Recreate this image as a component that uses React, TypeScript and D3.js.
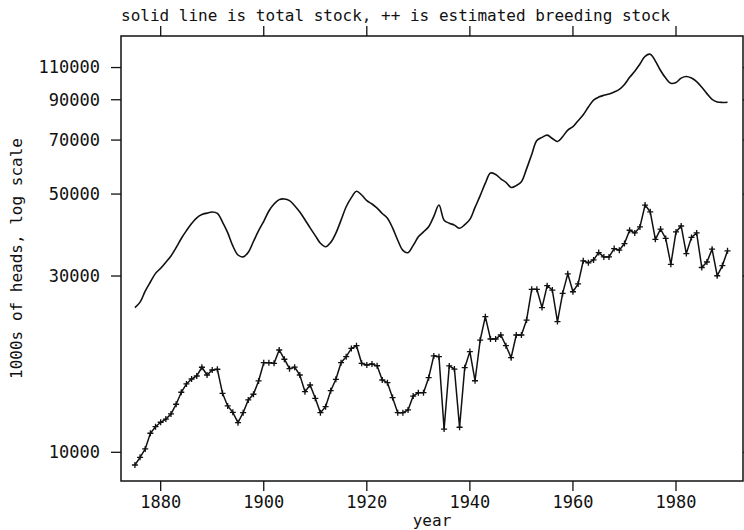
import React from "react";
import * as d3 from "d3";

const width = 744;
const height = 530;
const left = 121;
const right = 743;
const top = 36;
const bottom = 481;

// years 1875..1990
const firstYear = 1875;

// total stock, 1000s of heads (smooth line)
const totalStock = [
  24640, 25500, 27300, 28900, 30500, 31500, 32700, 34000, 35800, 37900,
  39800, 41600, 43100, 44000, 44400, 44700, 44300, 42000, 39300, 36200,
  34200, 33800, 34800, 37200, 39800, 42200, 45000, 47000, 48300, 48500,
  48000, 46500, 44700, 42600, 40500, 38600, 36800, 36000, 37000, 39200,
  42500, 46200, 48900, 50900, 49700, 48000, 47000, 45800, 44300, 43000,
  40500, 37500, 35200, 34700, 36300, 38300, 39500, 40800, 43500, 46700,
  42500, 41700, 41200, 40400, 41300, 42700, 46000, 49500, 53500, 57000,
  56500, 55000, 53800, 52100, 52700, 54000, 58500, 64000, 69800, 71200,
  72200, 70700, 69400, 71500, 74500, 76100, 79000, 82000, 86000, 89800,
  91500, 92500, 93300, 94500, 96000, 99000, 103500, 107500, 112500, 118000,
  119500, 114500, 108000, 103000, 99700, 100200, 103000, 104000, 103000, 100800,
  97300, 93500, 90200, 88800, 88500, 88600,
];

// estimated breeding stock (++ points)
const breedingStock = [
  9240, 9690, 10210, 11260, 11730, 12060, 12300, 12700, 13490, 14540,
  15310, 15790, 16090, 16990, 16190, 16700, 16780, 14440, 13350, 12830,
  12030, 12800, 13860, 14360, 15600, 17480, 17480, 17410, 18920, 17860,
  16840, 17000, 16190, 14590, 15210, 14000, 12800, 13290, 14680, 15760,
  17480, 18150, 19100, 19430, 17410, 17230, 17340, 17150, 15690, 15430,
  14060, 12800, 12800, 13020, 14200, 14500, 14500, 15920, 18230, 18150,
  11560, 17130, 16800, 11690, 16940, 18730, 15620, 20130, 23290, 20260,
  20260, 20770, 19430, 18030, 20770, 20770, 22800, 27620, 27620, 24640,
  28250, 27490, 22580, 26920, 30410, 27200, 28560, 32980, 32580, 33170,
  34720, 33800, 33800, 35600, 35240, 36730, 39900, 39240, 40750, 46690,
  44760, 37700, 40200, 37920, 32270, 39490, 40980, 34510, 38170, 39240,
  31640, 32740, 35460, 30050, 32010, 35110,
];

const xTicks = [1880, 1900, 1920, 1940, 1960, 1980];
const yTicks = [10000, 30000, 50000, 70000, 90000, 110000];

const title = "solid line is total stock, ++ is estimated breeding stock";
const xLabel = "year";
const yLabel = "1000s of heads, log scale";

const font = "'DejaVu Sans Mono', 'Liberation Mono', monospace";

export default function App() {
  const x = d3.scaleLinear().domain([1872.3, 1993.0]).range([left, right]);
  const y = d3.scaleLog().domain([8362, 133900]).range([bottom, top]);

  const total = totalStock.map((v, i) => ({ year: firstYear + i, v }));
  const breed = breedingStock.map((v, i) => ({ year: firstYear + i, v }));

  const smooth = d3
    .line<{ year: number; v: number }>()
    .curve(d3.curveCatmullRom.alpha(0.5))
    .x(d => x(d.year))
    .y(d => y(d.v));
  const straight = d3
    .line<{ year: number; v: number }>()
    .x(d => x(d.year))
    .y(d => y(d.v));

  const tick = 10;
  const arm = 3;

  return (
    <svg
      width={width}
      height={height}
      viewBox={`0 0 ${width} ${height}`}
      style={{ position: "absolute", left: 0, top: 0, background: "white" }}
    >
      <rect x={0} y={0} width={width} height={height} fill="white" />

      <text x={left} y={21} fontFamily={font} fontSize={16} fill="#111">
        {title}
      </text>

      {/* frame */}
      <rect
        x={left}
        y={top}
        width={right - left}
        height={bottom - top}
        fill="none"
        stroke="#111"
        strokeWidth={1.5}
      />

      {/* x ticks, top and bottom */}
      <g stroke="#111" strokeWidth={1.3}>
        {xTicks.map(t => (
          <g key={t}>
            <line x1={x(t)} x2={x(t)} y1={bottom} y2={bottom + tick} />
            <line x1={x(t)} x2={x(t)} y1={top} y2={top - tick} />
          </g>
        ))}
        {yTicks.map(t => (
          <g key={t}>
            <line x1={left} x2={left - tick} y1={y(t)} y2={y(t)} />
            <line x1={right} x2={right + tick} y1={y(t)} y2={y(t)} />
          </g>
        ))}
      </g>

      <g fontFamily={font} fontSize={17} fill="#111">
        {xTicks.map(t => (
          <text key={t} x={x(t)} y={bottom + 27} textAnchor="middle">
            {t}
          </text>
        ))}
        {yTicks.map(t => (
          <text key={t} x={left - 21} y={y(t)} dy="0.35em" textAnchor="end">
            {t}
          </text>
        ))}
        <text x={(left + right) / 2} y={526} textAnchor="middle" fontSize={16}>
          {xLabel}
        </text>
        <text
          transform={`translate(22,${(top + bottom) / 2}) rotate(-90)`}
          textAnchor="middle"
          fontSize={16}
        >
          {yLabel}
        </text>
      </g>

      {/* total stock */}
      <path d={smooth(total) ?? ""} fill="none" stroke="#111" strokeWidth={1.6} />

      {/* breeding stock */}
      <path d={straight(breed) ?? ""} fill="none" stroke="#111" strokeWidth={1.5} />
      <g stroke="#111" strokeWidth={1.3}>
        {breed.map(d => (
          <path
            key={d.year}
            d={`M${x(d.year) - arm},${y(d.v)}h${2 * arm}M${x(d.year)},${y(d.v) - arm}v${2 * arm}`}
          />
        ))}
      </g>
    </svg>
  );
}
